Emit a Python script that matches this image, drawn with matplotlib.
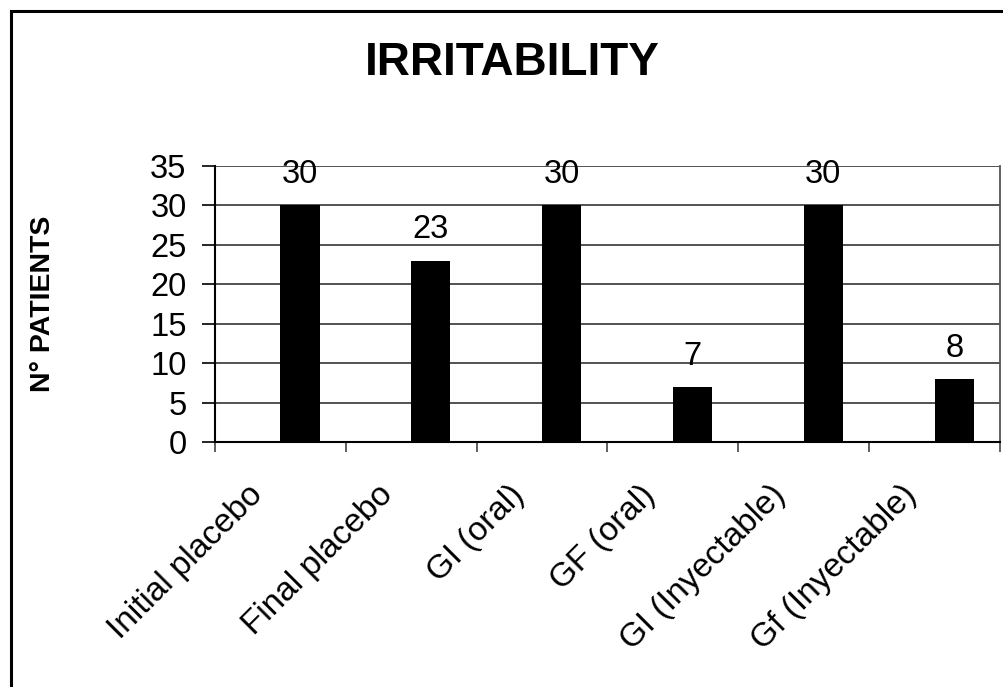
import matplotlib
matplotlib.use("Agg")
import matplotlib.pyplot as plt
import matplotlib.transforms as mtransforms
from matplotlib.patches import Rectangle

# datos del gráfico
categorias = ["Initial placebo", "Final placebo", "GI (oral)", "GF (oral)",
              "GI (Inyectable)", "Gf (Inyectable)"]
pacientes = [30, 23, 30, 7, 30, 8]
titulo = "IRRITABILITY"
etiqueta_y = "N° PATIENTS"
ticks_y = [0, 5, 10, 15, 20, 25, 30, 35]

plt.rcParams['font.family'] = ['Liberation Sans', 'DejaVu Sans']

fig = plt.figure(figsize=(10.04, 6.87), dpi=100)
ax = fig.add_axes([215 / 1004, 1 - 442 / 687, 785 / 1004, 276 / 687])

# barras desplazadas a la derecha del centro de cada hueco
n = len(categorias)
pos = [i + 0.5 for i in range(n)]
ax.bar(pos, pacientes, width=0.3, align='edge', color='black', zorder=3)

for x, v in zip(pos, pacientes):
    ax.annotate(str(v), (x + 0.15, v), xytext=(0, 16), textcoords='offset points',
                ha='center', va='baseline', fontsize=23.5, zorder=4)

ax.set_xlim(0, n)
ax.set_ylim(0, 35)
ax.set_yticks(ticks_y)
ax.tick_params(axis='y', labelsize=23.5, length=9.5, width=1.2, pad=11)
ax.yaxis.grid(True, color='#444444', linewidth=1.3, zorder=1)

# marcas menores entre categorías, etiquetas en el centro
ax.set_xticks(range(n + 1), minor=True)
ax.set_xticks(pos)
ax.set_xticklabels(categorias, rotation=45, ha='right', fontsize=24)
ax.tick_params(axis='x', which='major', length=0, pad=27)
ax.tick_params(axis='x', which='minor', length=7, width=1.2, color='#444444')
desplaza = mtransforms.ScaledTranslation(-12 / 100, 0, fig.dpi_scale_trans)
for lab in ax.get_xticklabels():
    lab.set_transform(lab.get_transform() + desplaza)

ax.spines['top'].set_visible(False)
ax.spines['left'].set_linewidth(1.5)
ax.spines['bottom'].set_linewidth(1.5)
ax.spines['right'].set_color('#555555')
ax.spines['right'].set_linewidth(1.3)

ax.set_ylabel(etiqueta_y, fontsize=20.5, fontweight='bold')
ax.yaxis.set_label_coords(-0.2025, 0.5)

fig.text(512 / 1004, 1 - 63 / 687, titulo, fontsize=33, fontweight='bold',
         ha='center', va='center')

# marco de la figura (recortado a la derecha y abajo)
fig.patches.append(Rectangle((11 / 1004, -0.2), 1.2, 1.2 - 11 / 687,
                             transform=fig.transFigure, fill=False,
                             edgecolor='black', linewidth=2.2))

fig.savefig("out.png", dpi=100)
